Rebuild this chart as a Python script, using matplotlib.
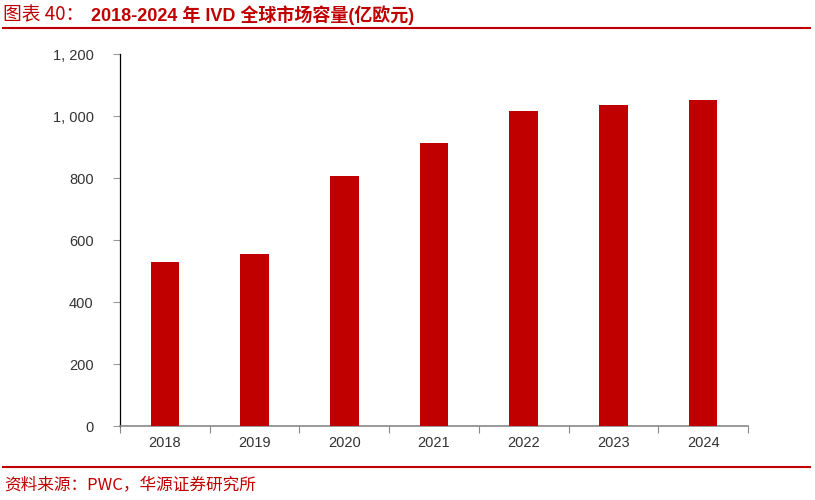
import matplotlib
matplotlib.use("Agg")
import matplotlib.pyplot as plt
from matplotlib.lines import Line2D

years = ["2018", "2019", "2020", "2021", "2022", "2023", "2024"]
values = [529, 555, 806, 912, 1016, 1035, 1051]
yticks = [0, 200, 400, 600, 800, 1000, 1200]
ytick_labels = ["0", "200", "400", "600", "800", "1, 000", "1, 200"]

RED = "#C00000"
plt.rcParams['font.family'] = ['Liberation Sans', 'Noto Sans CJK SC', 'DejaVu Sans']

fig = plt.figure(figsize=(8.15, 5.0), dpi=100)
ax = fig.add_axes([120/815, 74/500, 628/815, 372/500])

x = list(range(len(years)))
ax.bar(x, values, width=0.32, color=RED, zorder=3)
ax.set_xlim(-0.5, len(years) - 0.5)
ax.set_ylim(0, 1200)

ax.set_yticks(yticks)
ax.set_yticklabels(ytick_labels, fontsize=10.5, color="#333333")
ax.tick_params(axis='y', direction='out', length=5, width=0.8, color="#999999", pad=14)

ax.set_xticks([i - 0.5 for i in range(len(years) + 1)])
ax.set_xticklabels([])
ax.tick_params(axis='x', which='major', direction='out', length=5, width=0.8, color="#888888")
ax.set_xticks(x, minor=True)
ax.set_xticklabels(years, minor=True, fontsize=10.5, color="#333333")
ax.tick_params(axis='x', which='minor', length=0, pad=7)

for s in ['top', 'right']:
    ax.spines[s].set_visible(False)
ax.spines['left'].set_color('black')
ax.spines['left'].set_linewidth(0.9)
ax.spines['bottom'].set_color('#888888')
ax.spines['bottom'].set_linewidth(1.2)

# Title
fig.text(3/815, 1 - 15/500, "图表 40：", fontsize=13.5, color=RED, va='center', ha='left',
         family=['Noto Sans CJK SC', 'DejaVu Sans'])
fig.text(91/815, 1 - 15/500, "2018-2024 年 IVD 全球市场容量(亿欧元)", fontsize=13, color=RED,
         va='center', ha='left', fontweight='bold', family=['Liberation Sans', 'Noto Sans CJK SC', 'DejaVu Sans'])
fig.add_artist(Line2D([3/815, 810/815], [1 - 28/500, 1 - 28/500], color=RED, linewidth=1.5,
                      transform=fig.transFigure))

# Footer
fig.add_artist(Line2D([3/815, 810/815], [1 - 467/500, 1 - 467/500], color=RED, linewidth=1.5,
                      transform=fig.transFigure))
fig.text(4/815, 1 - 485/500, "资料来源：PWC，华源证券研究所", fontsize=12, color=RED, va='center', ha='left',
         family=['Noto Sans CJK SC', 'DejaVu Sans'])

fig.savefig("out.png", dpi=100)
